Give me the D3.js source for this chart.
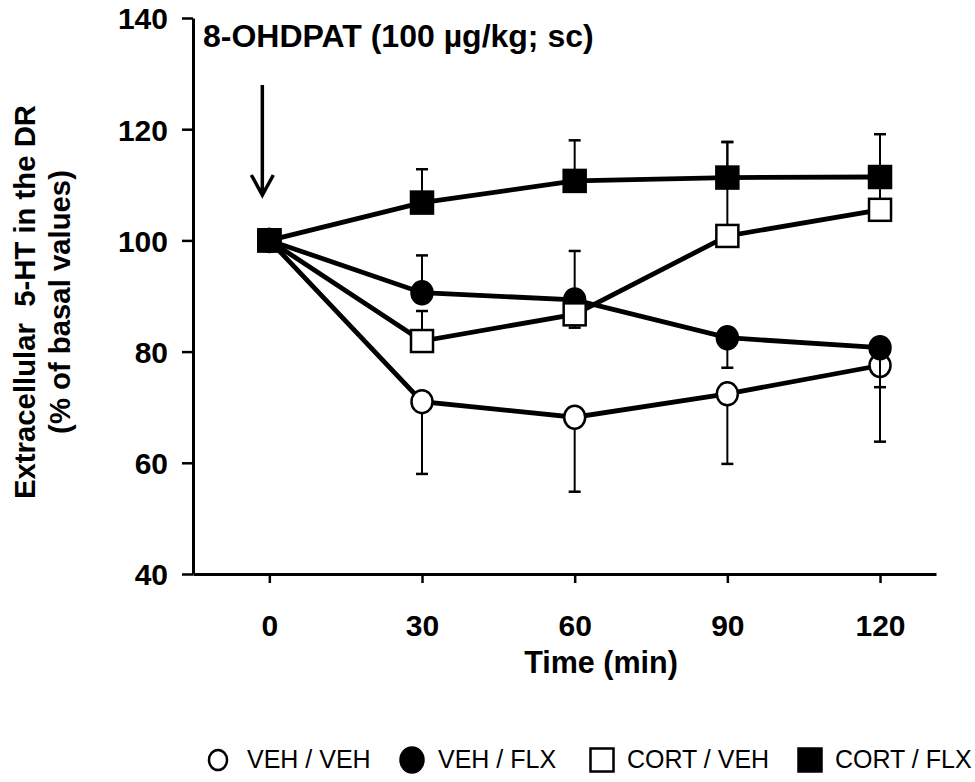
<!DOCTYPE html>
<html lang="en">
<head>
    <meta charset="UTF-8">
    <title>8-OHDPAT 5-HT in the DR</title>
    <script src="https://cdnjs.cloudflare.com/ajax/libs/d3/7.8.5/d3.min.js"></script>
    <style>
        body { margin: 0; background: #fff; }
        svg { display: block; font-family: Arial, "Liberation Sans", sans-serif; }
    </style>
</head>
<body>
    <div id="chart"></div>
    <script>
        // data
        const times = [0, 30, 60, 90, 120];
        const yTicks = [40, 60, 80, 100, 120, 140];
        const seriesNames = ["VEH / VEH", "VEH / FLX", "CORT / VEH", "CORT / FLX"];
        const vehVeh = [100, 71.0, 68.2, 72.4, 77.5];
        const vehFlx = [100, 90.6, 89.3, 82.5, 80.7];
        const cortVeh = [100, 81.9, 86.7, 100.8, 105.5];
        const cortFlx = [100, 106.8, 110.7, 111.3, 111.4];
        // one-sided SEM bars: positive = drawn up, negative = drawn down
        const vehVehSem = [0, -13.0, -13.4, -12.6, -13.7];
        const vehFlxSem = [0, 6.7, -5.0, -5.4, -7.1];
        const cortVehSem = [0, 5.4, 11.4, 16.9, 5.9];
        const cortFlxSem = [0, 6.0, 7.3, 6.4, 7.7];

        const width = 975, height = 782;
        const svg = d3.select("#chart").append("svg")
            .attr("width", width)
            .attr("height", height);

        const x = d3.scaleLinear().domain([-15, 131]).range([193, 936]);
        const y = d3.scaleLinear().domain([40, 140]).range([574, 18]);

        // axes
        const yAxis = svg.append("g")
            .attr("transform", "translate(193,0)")
            .call(d3.axisLeft(y).tickValues(yTicks).tickSize(11).tickPadding(14).tickSizeOuter(0));
        const xAxis = svg.append("g")
            .attr("transform", "translate(0,574)")
            .call(d3.axisBottom(x).tickValues(times).tickSize(9).tickPadding(53).tickSizeOuter(0));

        [yAxis, xAxis].forEach(g => {
            g.select(".domain").attr("stroke", "#000").attr("stroke-width", 3);
            g.selectAll(".tick line").attr("stroke", "#000").attr("stroke-width", 2.5);
            g.selectAll(".tick text")
                .attr("fill", "#000")
                .attr("font-size", 30)
                .attr("font-weight", "bold")
                .attr("font-family", "Arial, 'Liberation Sans', sans-serif");
        });
        xAxis.selectAll(".tick text").attr("dy", "0");
        yAxis.selectAll(".tick text").attr("dy", "0.36em");

        // axis titles
        svg.append("text")
            .attr("x", 601).attr("y", 673)
            .attr("text-anchor", "middle")
            .attr("font-size", 30.5).attr("font-weight", "bold")
            .text("Time (min)");

        const yTitle = svg.append("text")
            .attr("transform", "translate(0,302) rotate(-90)")
            .attr("text-anchor", "middle")
            .attr("font-size", 29.3).attr("font-weight", "bold");
        yTitle.append("tspan").attr("x", 0).attr("y", 35).text("Extracellular\u00a0\u00a05-HT in the DR");
        yTitle.append("tspan").attr("x", 0).attr("y", 70).text("(% of basal values)");

        // treatment label and arrow
        svg.append("text")
            .attr("x", 203).attr("y", 47)
            .attr("font-size", 32).attr("font-weight", "bold")
            .text("8-OHDPAT (100 \u00b5g/kg; sc)");

        svg.append("path")
            .attr("d", `M${x(0) - 7},85 V195 M${x(0) - 18},175 L${x(0) - 7},195 L${x(0) + 4},175`)
            .attr("fill", "none")
            .attr("stroke", "#000")
            .attr("stroke-width", 3.5);

        // series
        const series = [
            { name: seriesNames[0], values: vehVeh, sem: vehVehSem, shape: "circle", fill: "#fff" },
            { name: seriesNames[1], values: vehFlx, sem: vehFlxSem, shape: "circle", fill: "#000" },
            { name: seriesNames[2], values: cortVeh, sem: cortVehSem, shape: "square", fill: "#fff" },
            { name: seriesNames[3], values: cortFlx, sem: cortFlxSem, shape: "square", fill: "#000" }
        ];

        const line = d3.line().x((d, i) => x(times[i])).y(d => y(d));

        function drawMarker(g, shape, fill, cx, cy, size) {
            if (shape === "circle") {
                g.append("ellipse")
                    .attr("cx", cx).attr("cy", cy)
                    .attr("rx", size / 2).attr("ry", size / 2 + 1)
                    .attr("fill", fill).attr("stroke", "#000").attr("stroke-width", 2.5);
            } else {
                g.append("rect")
                    .attr("x", cx - size / 2).attr("y", cy - size / 2)
                    .attr("width", size).attr("height", size)
                    .attr("fill", fill).attr("stroke", "#000").attr("stroke-width", 2.5);
            }
        }

        series.forEach(s => {
            const g = svg.append("g");
            g.append("path")
                .attr("d", line(s.values))
                .attr("fill", "none")
                .attr("stroke", "#000")
                .attr("stroke-width", 4.8);

            s.values.forEach((v, i) => {
                if (!s.sem[i]) return;
                const cx = x(times[i]);
                const end = y(v + s.sem[i]);
                g.append("line")
                    .attr("x1", cx).attr("x2", cx)
                    .attr("y1", y(v)).attr("y2", end)
                    .attr("stroke", "#000").attr("stroke-width", 2);
                g.append("line")
                    .attr("x1", cx - 6).attr("x2", cx + 6)
                    .attr("y1", end).attr("y2", end)
                    .attr("stroke", "#000").attr("stroke-width", 2.5);
            });

            s.values.forEach((v, i) => {
                drawMarker(g, s.shape, s.fill, x(times[i]), y(v), s.shape === "circle" ? 21 : 22);
            });
        });

        // legend
        const legendX = [218, 412, 602, 810];
        const legendSize = [18, 23, 23, 23];
        const legendGap = [29, 26, 25, 25];
        const legend = svg.append("g");
        series.forEach((s, i) => {
            drawMarker(legend, s.shape, s.fill, legendX[i], 760, legendSize[i]);
            legend.append("text")
                .attr("x", legendX[i] + legendGap[i])
                .attr("y", 768)
                .attr("font-size", 25)
                .text(s.name);
        });
    </script>
</body>
</html>
